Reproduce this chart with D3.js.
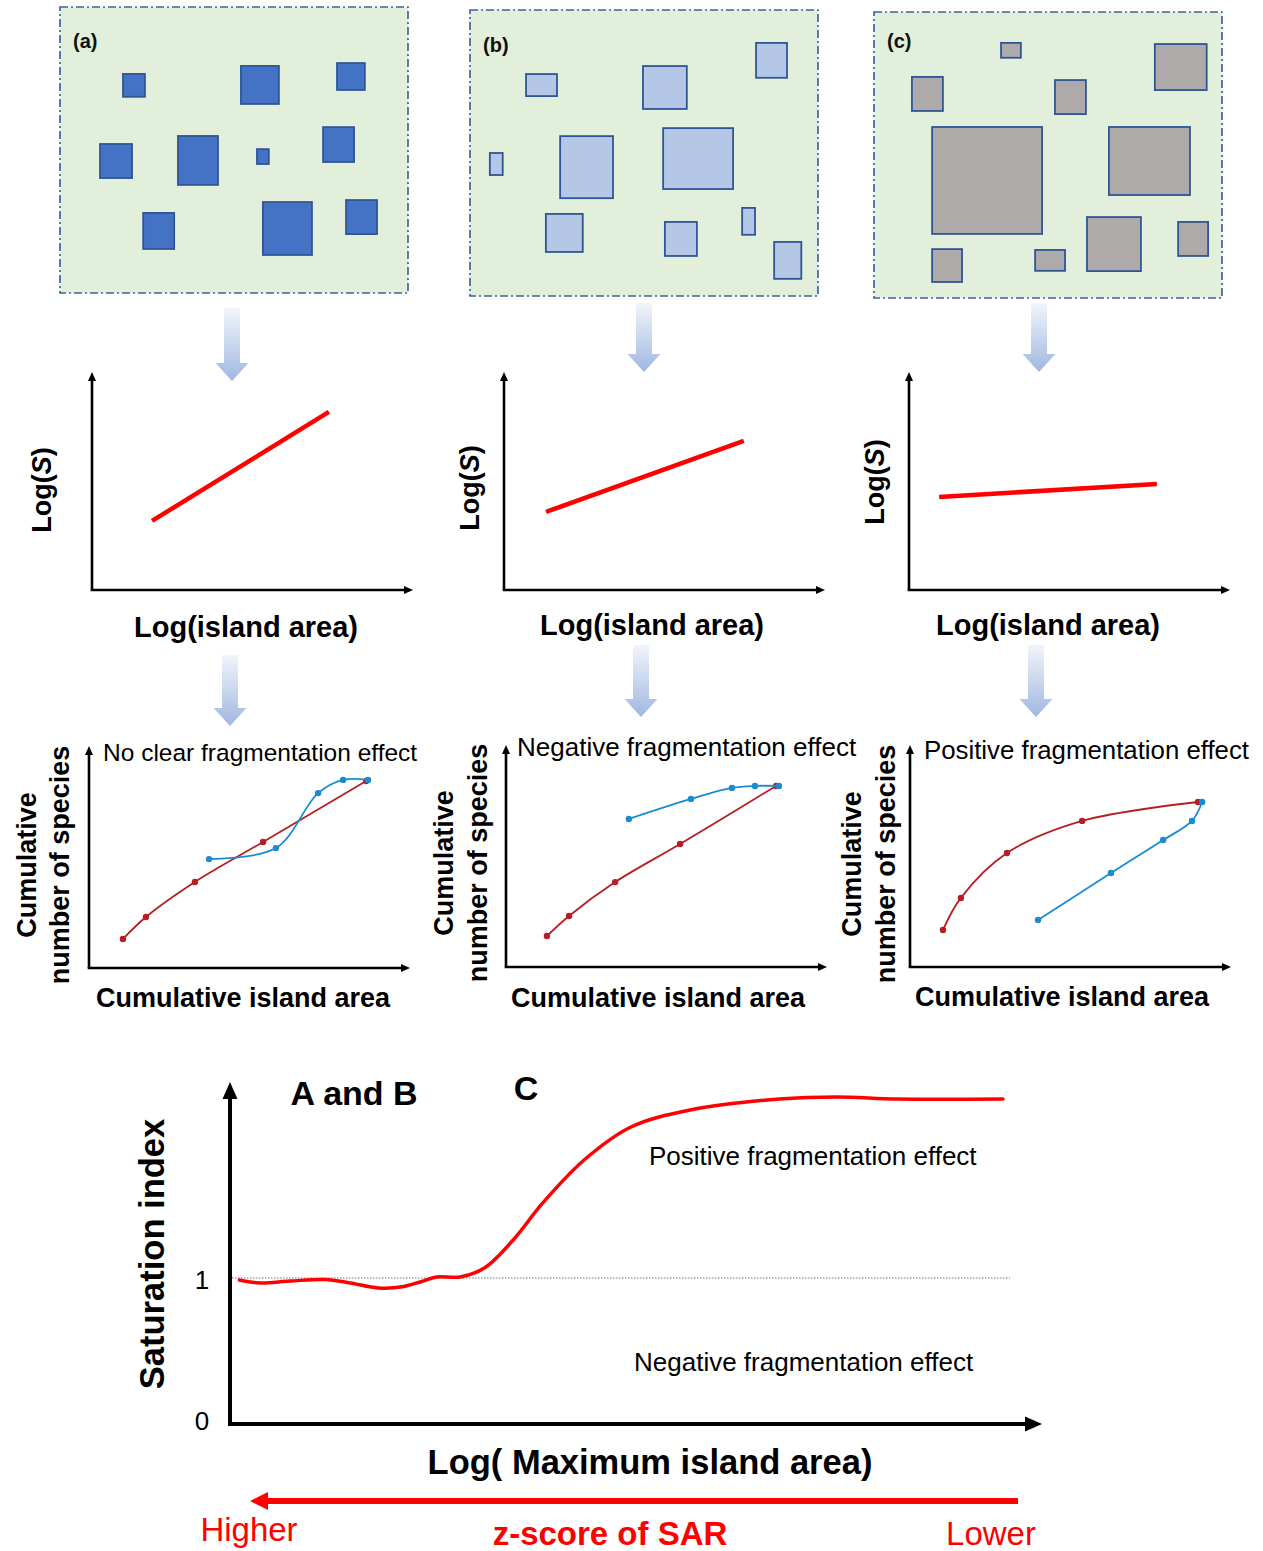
<!DOCTYPE html>
<html>
<head>
<meta charset="utf-8">
<script src="https://cdn.jsdelivr.net/npm/d3@7"></script>
<style>
  body { margin: 0; background: #fff; }
  svg { display: block; }
  text { font-family: "Liberation Sans", Arial, Helvetica, sans-serif; }
</style>
</head>
<body>
<svg id="fig" width="1263" height="1551"></svg>
<script>
// ---------- Data ----------
// Island maps: [x, y, width, height] in percent of the landscape frame
const islandsA = [
  [18.1, 23.4, 6.3, 8.0], [52.0, 20.6, 10.9, 13.3], [79.6, 19.6, 8.0, 9.4],
  [11.5, 47.9, 9.2, 11.9], [33.9, 45.1, 11.5, 17.1], [56.6, 49.7, 3.4, 5.2],
  [75.6, 42.0, 8.9, 12.2], [23.9, 72.0, 8.9, 12.6], [58.3, 68.2, 14.1, 18.5],
  [82.2, 67.5, 8.9, 11.9]
];
const islandsB = [
  [16.1, 22.4, 8.9, 7.7], [49.7, 19.6, 12.6, 15.0], [82.2, 11.5, 8.9, 12.2],
  [5.7, 50.0, 3.7, 7.7], [25.9, 44.1, 15.2, 21.7], [55.5, 41.3, 20.1, 21.3],
  [21.8, 71.3, 10.6, 13.3], [56.0, 74.1, 9.2, 11.9], [78.2, 69.2, 3.7, 9.4],
  [87.4, 81.1, 7.8, 12.9]
];
const islandsC = [
  [36.5, 10.8, 5.7, 5.2], [10.9, 22.7, 8.9, 11.9], [52.0, 23.8, 8.9, 11.9],
  [80.7, 11.2, 14.9, 16.1], [16.7, 40.2, 31.6, 37.4], [67.5, 40.2, 23.3, 23.8],
  [16.7, 82.9, 8.6, 11.5], [46.3, 83.2, 8.6, 7.3], [61.2, 71.7, 15.5, 18.9],
  [87.4, 73.4, 8.6, 11.9]
];
const panelLabels = ["(a)", "(b)", "(c)"];

// Species–area relationships (log–log), endpoints in axis percent
const sarA = [[18.7, 31.7], [73.8, 81.7]];
const sarB = [[13.1, 35.8], [74.7, 68.4]];
const sarC = [[9.4, 42.7], [77.2, 48.6]];

// Cumulative species curves: small-to-large (red) and large-to-small (blue)
const cumRedA  = [[10.6, 13.2], [17.8, 23.2], [33.1, 39.1], [54.4, 57.3], [86.6, 85.0]];
const cumBlueA = [[37.5, 49.5], [58.4, 54.5], [71.6, 79.5], [79.4, 85.5], [87.2, 85.5]];
const cumRedB  = [[12.8, 14.1], [19.7, 23.2], [34.1, 38.6], [54.4, 55.9], [84.4, 82.3]];
const cumBlueB = [[38.4, 67.3], [57.8, 76.4], [70.6, 81.4], [77.8, 82.3], [85.3, 82.3]];
const cumRedC  = [[10.3, 16.8], [15.9, 31.4], [30.3, 51.8], [53.8, 66.4], [90.0, 75.0]];
const cumBlueC = [[40.0, 21.4], [62.8, 42.7], [79.1, 57.7], [88.1, 66.4], [91.3, 75.0]];
const cumTitles = ["No clear fragmentation effect", "Negative fragmentation effect", "Positive fragmentation effect"];

// Saturation index along log(maximum island area)
const satX = [1.2, 3.8, 7.7, 12.2, 15.4, 19.0, 21.9, 24.4, 26.5, 29.5, 32.6, 36.3, 40.1, 45.4, 51.4, 59.0, 70.4, 77.9, 85.5, 99.1];
const satY = [0.986, 0.966, 0.979, 0.99, 0.966, 0.932, 0.938, 0.973, 1.007, 1.007, 1.068, 1.26, 1.514, 1.808, 2.034, 2.151, 2.226, 2.24, 2.226, 2.226];
const satTicks = [0, 1];

// ---------- Drawing ----------
const svg = d3.select("#fig");
const defs = svg.append("defs");

const grad = defs.append("linearGradient").attr("id", "flowGrad")
  .attr("x1", 0).attr("y1", 0).attr("x2", 0).attr("y2", 1);
grad.append("stop").attr("offset", "0%").attr("stop-color", "#f2f5fb");
grad.append("stop").attr("offset", "100%").attr("stop-color", "#9fb7e0");

const fontBold = "bold";

// Landscape maps
const mapFrames = [{x: 60, y: 7, ly: 48}, {x: 470, y: 10, ly: 52}, {x: 874, y: 12, ly: 48}];
const mapW = 348, mapH = 286;
const islandSets = [islandsA, islandsB, islandsC];
const islandFill = ["#4472c4", "#b4c7e7", "#aeaaaa"];

mapFrames.forEach((f, i) => {
  const sx = d3.scaleLinear().domain([0, 100]).range([f.x, f.x + mapW]);
  const sy = d3.scaleLinear().domain([0, 100]).range([f.y, f.y + mapH]);
  const g = svg.append("g");
  g.append("rect")
    .attr("x", f.x).attr("y", f.y).attr("width", mapW).attr("height", mapH)
    .attr("fill", "#e2efda").attr("stroke", "#3f63a3").attr("stroke-width", 1.7)
    .attr("stroke-dasharray", "8,3,2,3");
  g.selectAll("rect.island").data(islandSets[i]).join("rect")
    .attr("class", "island")
    .attr("x", d => sx(d[0])).attr("y", d => sy(d[1]))
    .attr("width", d => sx(d[0] + d[2]) - sx(d[0]))
    .attr("height", d => sy(d[1] + d[3]) - sy(d[1]))
    .attr("fill", islandFill[i]).attr("stroke", "#2f5597").attr("stroke-width", 1.8);
  g.append("text").attr("x", f.x + 13).attr("y", f.ly)
    .attr("font-size", 20).attr("font-weight", fontBold).attr("fill", "#111")
    .text(panelLabels[i]);
});

// Block arrows between rows
function flowArrow(cx, top, tip) {
  const shaftW = 16, headW = 33, headL = 18;
  const p = [
    [cx - shaftW / 2, top], [cx + shaftW / 2, top], [cx + shaftW / 2, tip - headL],
    [cx + headW / 2, tip - headL], [cx, tip], [cx - headW / 2, tip - headL],
    [cx - shaftW / 2, tip - headL]
  ];
  svg.append("path").attr("d", d3.line()(p) + "Z").attr("fill", "url(#flowGrad)");
}
flowArrow(232, 308, 381);
flowArrow(644, 303, 372);
flowArrow(1039, 303, 372);
flowArrow(230, 655, 726);
flowArrow(641, 645, 717);
flowArrow(1036, 645, 717);

// Arrow-tipped axes
function axisArrows(g, x0, y0, xEnd, yTop, width, headL, headW) {
  g.append("line").attr("x1", x0).attr("y1", y0).attr("x2", x0).attr("y2", yTop + headL - 1)
    .attr("stroke", "#000").attr("stroke-width", width);
  g.append("line").attr("x1", x0 - width / 2).attr("y1", y0).attr("x2", xEnd - headL + 1).attr("y2", y0)
    .attr("stroke", "#000").attr("stroke-width", width);
  g.append("path").attr("d", `M${x0 - headW / 2},${yTop + headL} L${x0},${yTop} L${x0 + headW / 2},${yTop + headL} Z`);
  g.append("path").attr("d", `M${xEnd - headL},${y0 - headW / 2} L${xEnd},${y0} L${xEnd - headL},${y0 + headW / 2} Z`);
}

// Species–area plots
const sarFrames = [
  {x: 92, y: 590, ylab: [42, 490], xlab: [246, 637]},
  {x: 504, y: 590, ylab: [470, 488], xlab: [652, 635]},
  {x: 909, y: 590, ylab: [875, 482], xlab: [1048, 635]}
];
const sarW = 321, sarH = 218;
const sarSets = [sarA, sarB, sarC];
sarFrames.forEach((f, i) => {
  const g = svg.append("g");
  const sx = d3.scaleLinear().domain([0, 100]).range([f.x, f.x + sarW]);
  const sy = d3.scaleLinear().domain([0, 100]).range([f.y, f.y - sarH]);
  axisArrows(g, f.x, f.y, f.x + sarW, f.y - sarH, 2.6, 9, 8);
  g.append("path").datum(sarSets[i])
    .attr("d", d3.line().x(d => sx(d[0])).y(d => sy(d[1])))
    .attr("fill", "none").attr("stroke", "#ff0000").attr("stroke-width", 4.5);
  g.append("text").attr("x", f.xlab[0]).attr("y", f.xlab[1])
    .attr("text-anchor", "middle").attr("font-size", 29).attr("font-weight", fontBold)
    .text("Log(island area)");
  const yl = g.append("text")
    .attr("transform", `translate(${f.ylab[0]},${f.ylab[1]}) rotate(-90)`)
    .attr("text-anchor", "middle").attr("dominant-baseline", "central")
    .attr("font-size", 27).attr("font-weight", fontBold);
  yl.append("tspan").text("Log(");
  yl.append("tspan").attr("font-style", "italic").text("S");
  yl.append("tspan").text(")");
});

// Cumulative species–area curves
const cumFrames = [
  {x: 89, y: 968, lab1: 27, lab2: 60, labY: 865, xlab: [243, 1007], title: [103, 761], tsize: 24.5},
  {x: 506, y: 967, lab1: 444, lab2: 478, labY: 863, xlab: [658, 1007], title: [517, 756], tsize: 26},
  {x: 910, y: 967, lab1: 852, lab2: 886, labY: 864, xlab: [1062, 1006], title: [924, 759], tsize: 25.8}
];
const cumW = 320, cumH = 220;
const cumSets = [[cumRedA, cumBlueA], [cumRedB, cumBlueB], [cumRedC, cumBlueC]];
const redCol = "#b81d24", blueCol = "#1b8bd1";
cumFrames.forEach((f, i) => {
  const g = svg.append("g");
  const sx = d3.scaleLinear().domain([0, 100]).range([f.x, f.x + cumW]);
  const sy = d3.scaleLinear().domain([0, 100]).range([f.y, f.y - cumH]);
  axisArrows(g, f.x, f.y, f.x + cumW + 1, f.y - cumH - 2, 2.6, 9, 8);
  const line = d3.line().x(d => sx(d[0])).y(d => sy(d[1])).curve(d3.curveCatmullRom.alpha(0.5));
  const [red, blue] = cumSets[i];
  [[red, redCol], [blue, blueCol]].forEach(([pts, col]) => {
    g.append("path").datum(pts).attr("d", line)
      .attr("fill", "none").attr("stroke", col).attr("stroke-width", 1.8);
    g.selectAll(null).data(pts).join("circle")
      .attr("cx", d => sx(d[0])).attr("cy", d => sy(d[1])).attr("r", 3.2).attr("fill", col);
  });
  g.append("text").attr("x", f.title[0]).attr("y", f.title[1])
    .attr("font-size", f.tsize).text(cumTitles[i]);
  g.append("text").attr("x", f.xlab[0]).attr("y", f.xlab[1])
    .attr("text-anchor", "middle").attr("font-size", 27).attr("font-weight", fontBold)
    .text("Cumulative island area");
  g.append("text").attr("transform", `translate(${f.lab1},${f.labY}) rotate(-90)`)
    .attr("text-anchor", "middle").attr("dominant-baseline", "central")
    .attr("font-size", 27).attr("font-weight", fontBold).text("Cumulative");
  g.append("text").attr("transform", `translate(${f.lab2},${f.labY}) rotate(-90)`)
    .attr("text-anchor", "middle").attr("dominant-baseline", "central")
    .attr("font-size", 27).attr("font-weight", fontBold).text("number of species");
});

// Saturation index chart
const sat = {x0: 230, y0: 1424, xEnd: 1042, yTop: 1082};
const satXScale = d3.scaleLinear().domain([0, 100]).range([sat.x0, 1010]);
const satYScale = d3.scaleLinear().domain([0, 1]).range([sat.y0, 1278]);
const gs = svg.append("g");

gs.append("line")
  .attr("x1", sat.x0 + 2).attr("x2", satXScale(100))
  .attr("y1", satYScale(1)).attr("y2", satYScale(1))
  .attr("stroke", "#666").attr("stroke-width", 0.9).attr("stroke-dasharray", "1.5,1.5");

axisArrows(gs, sat.x0, sat.y0, sat.xEnd, sat.yTop, 4, 17, 15);

gs.selectAll("text.tick").data(satTicks).join("text")
  .attr("class", "tick")
  .attr("x", 202).attr("y", d => satYScale(d) + (d === 0 ? -3 : 2))
  .attr("text-anchor", "middle").attr("dominant-baseline", "central")
  .attr("font-size", 26).text(d => d);

gs.append("path")
  .datum(satX.map((x, i) => [x, satY[i]]))
  .attr("d", d3.line().x(d => satXScale(d[0])).y(d => satYScale(d[1])).curve(d3.curveCatmullRom.alpha(0.5)))
  .attr("fill", "none").attr("stroke", "#ff0000").attr("stroke-width", 3.5).attr("stroke-linecap", "round");

gs.append("text").attr("x", 354).attr("y", 1105).attr("text-anchor", "middle")
  .attr("font-size", 34).attr("font-weight", fontBold).text("A and B");
gs.append("text").attr("x", 526).attr("y", 1100).attr("text-anchor", "middle")
  .attr("font-size", 34).attr("font-weight", fontBold).text("C");
gs.append("text").attr("x", 649).attr("y", 1165).attr("font-size", 26).text("Positive fragmentation effect");
gs.append("text").attr("x", 634).attr("y", 1371).attr("font-size", 26).text("Negative fragmentation effect");

gs.append("text").attr("transform", "translate(152,1254) rotate(-90)")
  .attr("text-anchor", "middle").attr("dominant-baseline", "central")
  .attr("font-size", 34.5).attr("font-weight", fontBold).text("Saturation index");
gs.append("text").attr("x", 650).attr("y", 1474).attr("text-anchor", "middle")
  .attr("font-size", 34.5).attr("font-weight", fontBold).text("Log( Maximum island area)");

// z-score direction arrow
gs.append("line").attr("x1", 1018).attr("x2", 266).attr("y1", 1501).attr("y2", 1501)
  .attr("stroke", "#ff0000").attr("stroke-width", 6);
gs.append("path").attr("d", "M268,1492 L250,1501 L268,1510 Z").attr("fill", "#ff0000");
gs.append("text").attr("x", 249).attr("y", 1541).attr("text-anchor", "middle")
  .attr("font-size", 33).attr("fill", "#ff0000").text("Higher");
gs.append("text").attr("x", 610).attr("y", 1545).attr("text-anchor", "middle")
  .attr("font-size", 33).attr("font-weight", fontBold).attr("fill", "#ff0000").text("z-score of SAR");
gs.append("text").attr("x", 991).attr("y", 1545).attr("text-anchor", "middle")
  .attr("font-size", 33).attr("fill", "#ff0000").text("Lower");
</script>
</body>
</html>
